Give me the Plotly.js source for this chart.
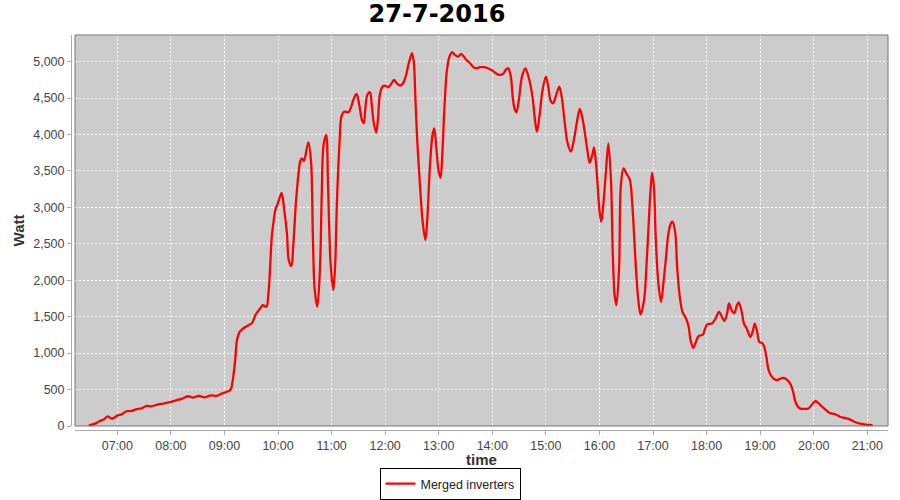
<!DOCTYPE html>
<html>
<head>
<meta charset="utf-8">
<script src="https://cdn.plot.ly/plotly-3.0.1.min.js"></script>
<style>html,body{margin:0;padding:0;background:#fff}#chart{width:900px;height:500px}</style>
</head>
<body>
<div id="chart"></div>
<script>
const chartTitle = "27-7-2016";
const seriesName = "Merged inverters";
const xTitle = "time";
const yTitle = "Watt";
const day = "2016-07-27";

const times = [
  "06:28","06:35","06:40","06:46","06:49","06:54","07:00","07:05","07:10","07:16",
  "07:21","07:27","07:33","07:38","07:44","07:49","07:55","08:00","08:06","08:12",
  "08:19","08:25","08:31","08:38","08:45","08:51","08:57","09:02","09:07","09:09",
  "09:12","09:14","09:17","09:21","09:27","09:31","09:35","09:40","09:43","09:47",
  "09:49","09:51","09:53","09:55","09:57","10:00","10:04","10:07","10:10","10:12",
  "10:15","10:17","10:20","10:23","10:25","10:27","10:29","10:34","10:37","10:39",
  "10:41","10:44","10:47","10:49","10:51","10:54","10:56","10:59","11:02","11:04",
  "11:06","11:09","11:11","11:14","11:19","11:22","11:25","11:28","11:31","11:34",
  "11:36","11:38","11:40","11:43","11:45","11:47","11:50","11:52","11:54","11:57",
  "12:00","12:03","12:06","12:10","12:13","12:17","12:20","12:23","12:26","12:30",
  "12:32","12:34","12:36","12:39","12:42","12:45","12:47","12:50","12:53","12:55",
  "12:57","13:00","13:02","13:04","13:06","13:09","13:12","13:15","13:18","13:22",
  "13:25","13:28","13:31","13:35","13:39","13:43","13:46","13:51","13:55","14:00",
  "14:04","14:08","14:12","14:15","14:18","14:21","14:23","14:25","14:27","14:30",
  "14:33","14:37","14:41","14:45","14:48","14:50","14:53","14:56","15:00","15:03",
  "15:05","15:08","15:11","15:15","15:18","15:21","15:24","15:28","15:31","15:35",
  "15:38","15:41","15:44","15:47","15:49","15:52","15:54","15:56","15:58","16:00",
  "16:02","16:04","16:07","16:10","16:13","16:15","16:17","16:19","16:22","16:24",
  "16:27","16:30","16:34","16:37","16:40","16:43","16:46","16:50","16:53","16:55",
  "16:57","16:59","17:01","17:03","17:06","17:09","17:12","17:15","17:17","17:20",
  "17:22","17:25","17:27","17:30","17:33","17:37","17:40","17:42","17:45","17:48",
  "17:51","17:56","17:58","18:01","18:06","18:10","18:14","18:18","18:20","18:23",
  "18:25","18:28","18:31","18:34","18:36","18:39","18:42","18:45","18:49","18:52",
  "18:54","18:57","18:59","19:02","19:04","19:07","19:09","19:12","19:15","19:19",
  "19:22","19:26","19:30","19:34","19:37","19:39","19:42","19:45","19:49","19:54",
  "19:58","20:02","20:05","20:09","20:14","20:18","20:24","20:30","20:35","20:41",
  "20:46","20:52","20:58","21:03","21:06"
];

const watts = [
  5,33,65,100,133,100,143,160,202,206,
  229,243,275,270,289,302,316,330,353,371,
  408,390,412,394,421,412,445,467,500,605,
  902,1177,1291,1338,1383,1415,1530,1612,1658,1635,
  1782,2139,2596,2802,2963,3063,3200,2963,2643,2276,
  2194,2459,3055,3467,3640,3673,3636,3893,3626,2619,
  1887,1635,2162,3183,3856,3993,3306,2207,1864,2207,
  3077,3911,4245,4313,4305,4382,4497,4556,4405,4199,
  4154,4382,4543,4579,4405,4176,4025,4222,4543,4657,
  4671,4648,4680,4749,4703,4671,4703,4794,4955,5115,
  5000,4451,3900,3306,2802,2551,2802,3536,3993,4085,
  3856,3489,3407,3718,4268,4863,5069,5129,5092,5069,
  5106,5069,5023,4978,4923,4909,4923,4923,4909,4877,
  4840,4817,4831,4886,4909,4772,4497,4350,4305,4497,
  4780,4905,4772,4519,4176,4038,4268,4588,4794,4634,
  4474,4428,4519,4657,4497,4176,3901,3764,3901,4185,
  4350,4222,3993,3742,3613,3718,3824,3626,3306,2963,
  2802,2986,3444,3879,3352,2345,1795,1658,2162,3306,
  3536,3467,3380,3000,2350,1800,1530,1727,2276,2734,
  3192,3475,3283,2596,1956,1703,2001,2368,2619,2780,
  2802,2643,2184,1772,1566,1475,1360,1177,1071,1154,
  1232,1255,1324,1397,1406,1475,1566,1475,1442,1544,
  1681,1589,1544,1658,1695,1589,1400,1338,1223,1315,
  1406,1269,1154,1140,1109,948,788,696,651,628,
  646,660,637,573,467,353,271,239,234,239,
  294,343,316,271,216,179,161,124,110,88,
  55,33,19,14,10
];

const xRange = [day + " 06:12:36", day + " 21:23:12"];
const yRange = [0, 5365];

const W = 900, H = 500;
const M = {l: 71, r: 12, t: 35, b: 70};
const pw = W - M.l - M.r, ph = H - M.t - M.b;
const gap = 4;

const trace = {
  type: "scatter",
  mode: "lines",
  name: seriesName,
  x: times.map(t => day + " " + t),
  y: watts,
  line: {color: "#ff0000", width: 2.3, shape: "spline", smoothing: 0.9}
};

const tickFont = {family: "Liberation Sans, Arial, sans-serif", size: 12.5, color: "#444444"};
const axTitleFont = {family: "Liberation Sans, Arial, sans-serif", size: 15, color: "#333333", weight: "bold"};

const layout = {
  width: W, height: H,
  margin: M,
  paper_bgcolor: "#ffffff",
  plot_bgcolor: "#cccccc",
  showlegend: true,
  title: {
    text: chartTitle,
    font: {family: "DejaVu Sans, sans-serif", size: 24, color: "#000000", weight: "bold"},
    xref: "container", x: 437 / W, xanchor: "center",
    yref: "container", y: 0.972, yanchor: "middle"
  },
  xaxis: {
    type: "date",
    domain: [gap / pw, 1],
    anchor: "free", position: 0,
    range: xRange,
    tickformat: "%H:%M",
    tick0: day + " 07:00",
    dtick: 3600000,
    ticks: "outside", ticklen: 4, tickcolor: "#aaaaaa",
    showline: true, linecolor: "#aaaaaa", linewidth: 1,
    showgrid: true, gridcolor: "#ffffff", gridwidth: 1, griddash: "2px,2px",
    zeroline: false,
    tickfont: tickFont,
    title: {text: xTitle, font: axTitleFont, standoff: 2}
  },
  yaxis: {
    domain: [gap / ph, 1],
    anchor: "free", position: 0,
    range: yRange,
    dtick: 500, tick0: 0,
    tickformat: ",d",
    ticks: "outside", ticklen: 4, tickcolor: "#aaaaaa",
    showline: true, linecolor: "#aaaaaa", linewidth: 1,
    showgrid: true, gridcolor: "#ffffff", gridwidth: 1, griddash: "2px,2px",
    zeroline: false,
    tickfont: tickFont,
    title: {text: yTitle, font: axTitleFont, standoff: 3}
  },
  shapes: [{
    type: "rect", xref: "x domain", yref: "y domain",
    x0: 0, x1: 1, y0: 0, y1: 1,
    line: {color: "#777777", width: 1}, layer: "above"
  }],
  legend: {
    orientation: "h",
    xref: "container", yref: "container",
    x: 0.5, xanchor: "center",
    y: 1 - 484 / H, yanchor: "middle",
    bgcolor: "#ffffff", bordercolor: "#000000", borderwidth: 1,
    font: {family: "Liberation Sans, Arial, sans-serif", size: 12.5, color: "#222222"},
    itemwidth: 30
  }
};

Plotly.newPlot("chart", [trace], layout, {staticPlot: true, displayModeBar: false});
</script>
</body>
</html>
